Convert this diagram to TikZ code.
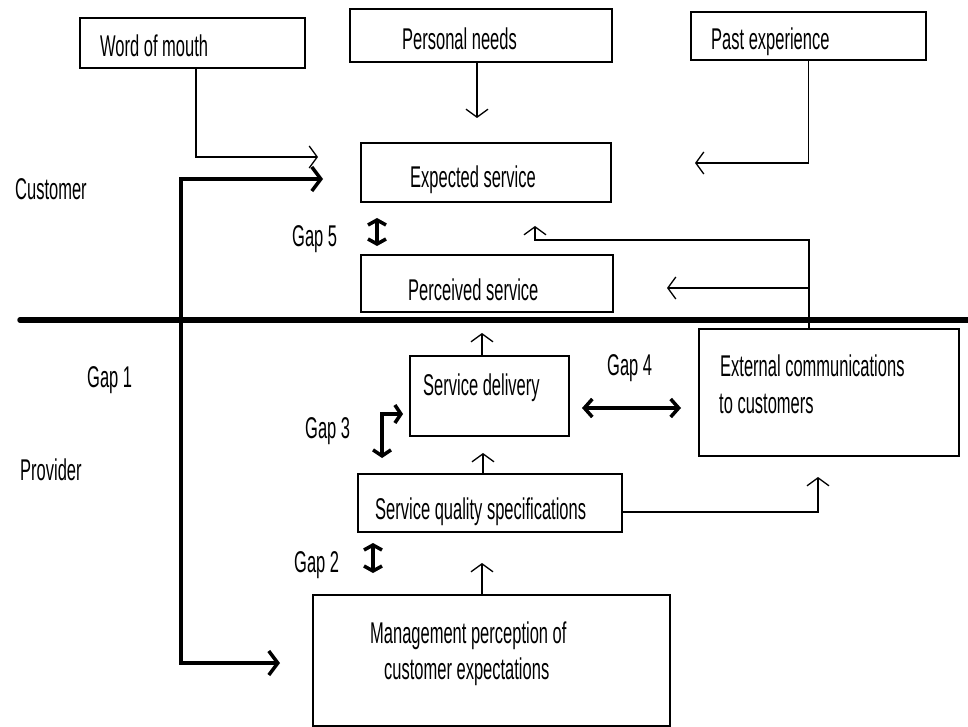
\documentclass[tikz,border=0pt]{standalone}
\usepackage{fontspec}
\setmainfont[FakeStretch=0.55]{Liberation Sans}
\usetikzlibrary{arrows.meta}
\begin{document}
\begin{tikzpicture}[x=1pt,y=-1pt,
  box/.style={draw, line width=1.3pt, inner sep=0pt},
  lbl/.style={anchor=base west, inner sep=0pt, font=\fontsize{30}{34}\selectfont},
  arr/.style={line width=1.3pt, -{Straight Barb[length=8pt,width=22pt,line width=1.3pt]}},
  thk/.style={line width=4pt, line join=miter},
  thkhead/.tip={Straight Barb[length=9pt,width=24pt,line width=3.5pt]}
]
\useasboundingbox (0,0) rectangle (968,727);

% boxes
\node[box, minimum width=225pt, minimum height=50pt] (wom) at (192.5,43) {};
\node[box, minimum width=262pt, minimum height=53pt] (pn) at (481,35.5) {};
\node[box, minimum width=235pt, minimum height=48pt] (pe) at (808.5,36) {};
\node[box, minimum width=250pt, minimum height=59pt] (es) at (486,172.5) {};
\node[box, minimum width=252pt, minimum height=57pt] (ps) at (487,283.5) {};
\node[box, minimum width=159pt, minimum height=80pt] (sd) at (489.5,396) {};
\node[box, minimum width=260pt, minimum height=127pt] (ec) at (829,392.5) {};
\node[box, minimum width=264pt, minimum height=58pt] (sq) at (490,503) {};
\node[box, minimum width=357pt, minimum height=131pt] (mp) at (491.5,660.5) {};

% texts
\node[lbl] (tWom) at (100,57) {Word of mouth};
\node[lbl] (tPn) at (402,50) {Personal needs};
\node[lbl] (tPe) at (711,50) {Past experience};
\node[lbl] (tCust) at (15,200) {Customer};
\node[lbl] (tEs) at (410,188) {Expected service};
\node[lbl] (tGap5) at (292,247) {Gap 5};
\node[lbl] (tPs) at (408,300) {Perceived service};
\node[lbl] (tGap1) at (87,387) {Gap 1};
\node[lbl] (tSd) at (423,395) {Service delivery};
\node[lbl] (tGap4) at (607,375) {Gap 4};
\node[lbl] (tEc1) at (720,376) {External communications};
\node[lbl] (tEc2) at (719,413) {to customers};
\node[lbl] (tGap3) at (305,438) {Gap 3};
\node[lbl] (tProv) at (20,480) {Provider};
\node[lbl] (tSq) at (375,519) {Service quality specifications};
\node[lbl] (tGap2) at (294,572) {Gap 2};
\node[lbl] (tMp1) at (370,643) {Management perception of};
\node[lbl] (tMp2) at (384,679) {customer expectations};

% divider
\coordinate (divL) at (20,320);
\coordinate (divR) at (968,320);
\draw[line width=5.5pt, line cap=round] (divL) -- (divR);

% customer / provider bracket
\coordinate (custTip) at (323,179);
\coordinate (provTip) at (280,663);
\coordinate (brTop) at (181,179);
\coordinate (brBot) at (181,663);
\draw[thk, thkhead-thkhead] (custTip) -- (brTop) -- (brBot) -- (provTip);

% thin connectors
\coordinate (womEnd) at (318,157);
\draw[arr] (wom.south -| 196,0) |- (womEnd);
\coordinate (pnEnd) at (477,118);
\draw[arr] (pn.south -| pnEnd) -- (pnEnd);
\coordinate (peEnd) at (695,163);
\draw[arr] (pe.south) |- (peEnd);
\coordinate (ecTurn) at (809,240);
\coordinate (ecEnd1) at (535,226);
\draw[arr] (ec.north -| ecTurn) -- (ecTurn) -| (ecEnd1);
\coordinate (ecEnd2) at (667,288);
\draw[arr] (ecTurn |- ecEnd2) -- (ecEnd2);
\coordinate (sdEnd) at (482,333);
\draw[arr] (sd.north -| sdEnd) -- (sdEnd);
\coordinate (sqEnd) at (483,453);
\draw[arr] (sq.north -| sqEnd) -- (sqEnd);
\coordinate (mpEnd) at (482,563);
\draw[arr] (mp.north -| mpEnd) -- (mpEnd);
\coordinate (sqRtEnd) at (818,477);
\draw[arr] (sq.east |- 0,512) -| (sqRtEnd);

% gap arrows
\coordinate (g5a) at (377,218);
\coordinate (g5b) at (377,246);
\draw[line width=4pt, {Straight Barb[length=5pt,width=18pt,line width=3.5pt]}-{Straight Barb[length=5pt,width=18pt,line width=3.5pt]}] (g5a) -- (g5b);
\coordinate (g2a) at (373,543);
\coordinate (g2b) at (373,573);
\draw[line width=4pt, {Straight Barb[length=5pt,width=18pt,line width=3.5pt]}-{Straight Barb[length=5pt,width=18pt,line width=3.5pt]}] (g2a) -- (g2b);
\coordinate (g4a) at (582,408);
\coordinate (g4b) at (681,408);
\draw[line width=4pt, {Straight Barb[length=8pt,width=18pt,line width=3.5pt]}-{Straight Barb[length=8pt,width=18pt,line width=3.5pt]}] (g4a) -- (g4b);
\coordinate (g3a) at (382,458);
\coordinate (g3c) at (382,414);
\coordinate (g3b) at (403,414);
\draw[thk, {Straight Barb[length=6pt,width=18pt,line width=3.5pt]}-{Straight Barb[length=6pt,width=18pt,line width=3.5pt]}] (g3a) -- (g3c) -- (g3b);
\end{tikzpicture}
\end{document}
